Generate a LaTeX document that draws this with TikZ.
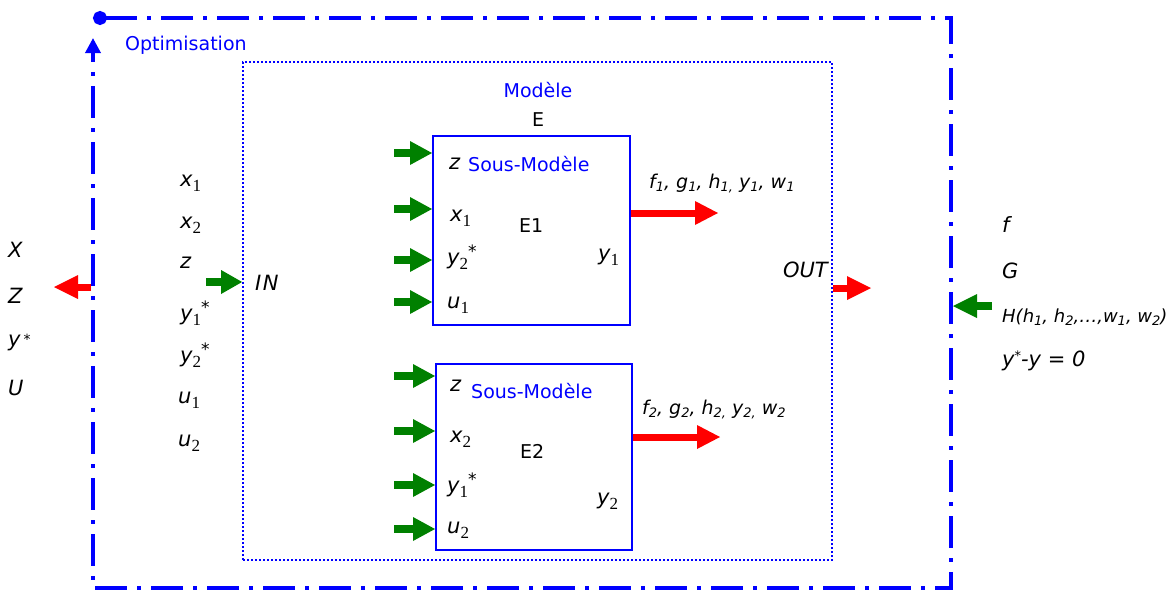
\documentclass[tikz,border=0pt]{standalone}
\usepackage{fontspec}
\setmainfont{DejaVu Sans}
\newfontfamily\subfont{Liberation Serif}
\usetikzlibrary{arrows.meta,calc}
\definecolor{myblue}{RGB}{0,0,255}
\definecolor{mygreen}{RGB}{0,128,0}
\definecolor{myred}{RGB}{255,0,0}
\newcommand\vv[2]{\textit{#1}\raisebox{-5pt}{\fontsize{17}{17}\subfont\upshape #2}}
\newcommand\vs{\raisebox{7pt}{\fontsize{17}{17}\selectfont\upshape *}}
\newcommand\isub[1]{\raisebox{-3pt}{\fontsize{13}{13}\selectfont\itshape #1}}
% horizontal block arrow: #1 style, #2 signed head length, #3 from, #4 to (tip)
\newcommand\harr[4]{%
  \draw[#1] (#3) -- ($(#4)+(#2,0)$);
  \fill[#1, draw=none] (#4) -- ($(#4)+(#2,12)$) -- ($(#4)+(#2,-12)$) -- cycle;}
\begin{document}
\begin{tikzpicture}[x=1pt,y=-1pt,
 txt/.style={anchor=base west, inner sep=0pt, font=\fontsize{19}{22}\selectfont},
 vtxt/.style={anchor=base west, inner sep=0pt, font=\fontsize{21}{24}\selectfont\itshape},
 btxt/.style={txt, text=myblue},
 frame/.style={draw=myblue, line width=3.5pt, dash pattern=on 32pt off 10pt on 4pt off 10pt},
 model/.style={draw=myblue, line width=1.8pt, dash pattern=on 2pt off 2pt, inner sep=0pt},
 subbox/.style={draw=myblue, line width=2pt, inner sep=0pt},
 garrow/.style={draw=mygreen, fill=mygreen, line width=8pt},
 rarrow/.style={draw=myred, fill=myred, line width=7pt},
]
\useasboundingbox (0,0) rectangle (1173,590);

% outer optimisation frame
\draw[frame, {Circle[length=14pt]}-{Triangle[length=15pt,width=15pt]}]
  (93,18) -- (951,18) -- (951,588) -- (93,588) -- (93,38);
\node[btxt] (opt) at (125,50) {Optimisation};

% model box
\node[model, minimum width=589pt, minimum height=498pt] (M) at (537.5,311) {};
\node[btxt, anchor=base] (mod) at (538,97) {Modèle};
\node[txt, anchor=base] (E) at (538,126) {E};

% sub-model boxes
\node[subbox, minimum width=197pt, minimum height=189pt] (E1) at (531.5,230.5) {};
\node[subbox, minimum width=196pt, minimum height=186pt] (E2) at (534,457) {};

% E1 contents
\node[vtxt] (e1z) at (449,169) {z};
\node[btxt] (e1t) at (468,171) {Sous-Modèle};
\node[vtxt] (e1x) at (450,221) {\vv{x}{1}};
\node[txt] (e1n) at (519,232) {E1};
\node[vtxt] (e1y2) at (447,264) {\vv{y}{2}\vs};
\node[vtxt] (e1y1) at (598,260) {\vv{y}{1}};
\node[vtxt] (e1u) at (447,308) {\vv{u}{1}};

% E2 contents
\node[vtxt] (e2z) at (450,391) {z};
\node[btxt] (e2t) at (471,398) {Sous-Modèle};
\node[vtxt] (e2x) at (450,442) {\vv{x}{2}};
\node[txt] (e2n) at (520,458) {E2};
\node[vtxt] (e2y1) at (447,492) {\vv{y}{1}\vs};
\node[vtxt] (e2y2) at (597,504) {\vv{y}{2}};
\node[vtxt] (e2u) at (447,533) {\vv{u}{2}};

% green inputs E1
\foreach \n/\y in {a1/153,a2/209,a3/260,a4/302} {
  \coordinate (\n) at (394,\y);
  \coordinate (\n t) at (\n -| E1.west);
  \harr{garrow}{-22}{\n}{\n t}
}
% green inputs E2
\foreach \n/\y in {b1/376,b2/431,b3/485,b4/529} {
  \coordinate (\n) at (394,\y);
  \coordinate (\n t) at (\n -| E2.west);
  \harr{garrow}{-22}{\n}{\n t}
}

% red outputs
\coordinate (r1) at (718,213);
\coordinate (r2) at (720,437);
\coordinate (r1s) at (r1 -| E1.east);
\coordinate (r2s) at (r2 -| E2.east);
\harr{rarrow}{-23}{r1s}{r1}
\harr{rarrow}{-23}{r2s}{r2}
\node[txt, font=\fontsize{19}{22}\selectfont\itshape] (o1) at (649,188) {f\isub{1}, g\isub{1}, h\isub{1,} y\isub{1}, w\isub{1}};
\node[txt, font=\fontsize{19}{22}\selectfont\itshape] (o2) at (642,414) {f\isub{2}, g\isub{2}, h\isub{2,} y\isub{2,} w\isub{2}};

% inputs list
\node[vtxt] (l1) at (180,186) {\vv{x}{1}};
\node[vtxt] (l2) at (180,228) {\vv{x}{2}};
\node[vtxt] (l3) at (180,268) {z};
\node[vtxt] (l4) at (180,320) {\vv{y}{1}\vs};
\node[vtxt] (l5) at (180,362) {\vv{y}{2}\vs};
\node[vtxt] (l6) at (178,403) {\vv{u}{1}};
\node[vtxt] (l7) at (178,446) {\vv{u}{2}};
\coordinate (inT) at (206,282);
\coordinate (inH) at (inT -| M.west);
\harr{garrow}{-21}{inT}{inH}
\node[vtxt] (IN) at (255,290) {I\kern1.5pt N};

% outside left
\node[vtxt] (X) at (8,257) {X};
\node[vtxt] (Z) at (8,303) {Z};
\node[vtxt] (Ys) at (8,346) {y\kern3pt\raisebox{2pt}{\fontsize{14}{14}\selectfont\upshape *}};
\node[vtxt] (U) at (8,395) {U};
\coordinate (fl) at (91,287);
\coordinate (fle) at (54,287);
\harr{rarrow}{24}{fl}{fle}

% output side
\node[vtxt, anchor=base east] (OUT) at (828,277) {OUT};
\coordinate (outT) at (871,288);
\coordinate (outS) at (outT -| M.east);
\harr{rarrow}{-24}{outS}{outT}

% outside right
\node[vtxt] (f) at (1002,232) {f};
\node[vtxt] (G) at (1002,278) {G};
\node[txt, font=\fontsize{18}{22}\selectfont\itshape] (H) at (1002,322) {H(h\isub{1}, h\isub{2},…,w\isub{1}, w\isub{2})};
\node[vtxt] (C) at (1002,366) {y\raisebox{6pt}{\fontsize{13}{13}\selectfont *}-y = 0};
\coordinate (fr) at (953,306);
\coordinate (fre) at (992,306);
\harr{garrow}{24}{fre}{fr}
\end{tikzpicture}
\end{document}
